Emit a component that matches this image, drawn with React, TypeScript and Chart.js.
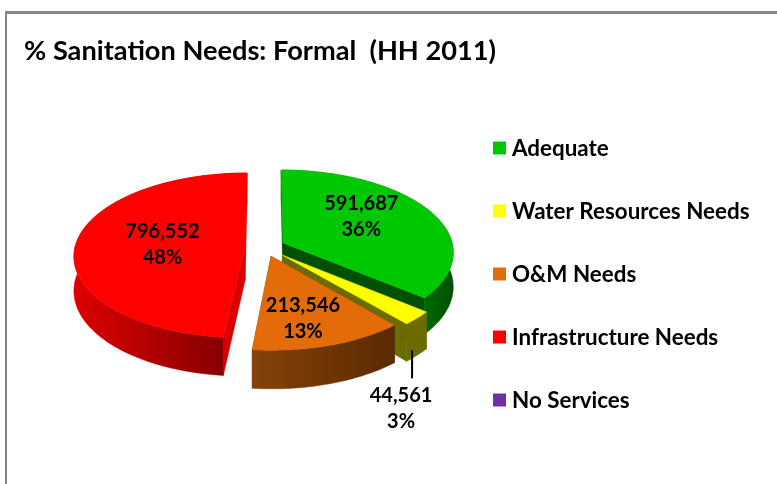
import React, { useEffect, useRef } from "react";
import { Chart, registerables } from "chart.js";

Chart.register(...registerables);

const categories = ["Adequate", "Water Resources Needs", "O&M Needs", "Infrastructure Needs", "No Services"];
const households = [591687, 44561, 213546, 796552, 0];
const topColors = ["#00C800", "#FFFF00", "#E36C09", "#FF0000", "#7030A0"];
const wallStart = ["#006A00", "#6B6B00", "#854208", "#DE0000", "#3A1A55"];
const wallEnd = ["#005000", "#6B6B00", "#5A2A02", "#850000", "#3A1A55"];
const faceColors = ["#005000", "#6B6B00", "#6B3404", "#D80000", "#3A1A55"];
const explode = [20, 24, 20, 20, 0];
const titleText = "% Sanitation Needs: Formal  (HH 2011)";

// projection of the flat pie into the tilted view
const CX = 265, CY = 247, R = 170, TILT = 0.48, DIST = 1570, DEPTH = 34;
const FONT = "Lato, Carlito, sans-serif";
const labelFrac = [0.5, 0, 0.72, 0.5, 0];
const labelShift = [[4, -10], [0, 0], [-9, 0], [2, 0], [0, 0]];

function project(u: number, v: number, h = 0) {
  const s = DIST / (DIST - v);
  return { x: CX + s * u, y: CY + s * (v * TILT + h) };
}

function slicePoint(a: number, mid: number, off: number, r: number, h = 0) {
  const u = Math.cos(mid) * off + Math.cos(a) * r;
  const v = Math.sin(mid) * off + Math.sin(a) * r;
  return project(u, v, h);
}

function poly(ctx: CanvasRenderingContext2D, pts: { x: number; y: number }[], fill: any) {
  ctx.beginPath();
  pts.forEach((p, i) => (i ? ctx.lineTo(p.x, p.y) : ctx.moveTo(p.x, p.y)));
  ctx.closePath();
  ctx.fillStyle = fill;
  ctx.fill();
  ctx.strokeStyle = fill;
  ctx.lineWidth = 0.5;
  ctx.stroke();
}

const pie3d = {
  id: "pie3d",
  beforeDraw(chart: any) {
    const { ctx } = chart;
    ctx.save();
    ctx.fillStyle = "#868686";
    ctx.fillRect(5, 11, 772, 3);
    ctx.fillRect(5, 11, 2, 473);
    ctx.restore();
  },
  beforeDatasetDraw(chart: any, args: any) {
    const { ctx } = chart;
    const arcs = args.meta.data as any[];
    const order = arcs
      .map((arc, i) => ({ arc, i, mid: (arc.startAngle + arc.endAngle) / 2 }))
      .filter((o) => o.arc.endAngle - o.arc.startAngle > 0)
      .sort((p, q) => Math.sin(p.mid) - Math.sin(q.mid));
    ctx.save();
    order.forEach(({ arc, i, mid }) => {
      const off = arc.options.offset;
      const apex = slicePoint(0, mid, off, 0);
      const apexLow = slicePoint(0, mid, off, 0, DEPTH);
      const top: { x: number; y: number }[] = [];
      const low: { x: number; y: number }[] = [];
      const n = Math.max(2, Math.ceil(((arc.endAngle - arc.startAngle) * 180) / Math.PI));
      for (let k = 0; k <= n; k++) {
        const a = arc.startAngle + ((arc.endAngle - arc.startAngle) * k) / n;
        top.push(slicePoint(a, mid, off, R));
        low.push(slicePoint(a, mid, off, R, DEPTH));
      }
      // radial faces
      poly(ctx, [apex, top[0], low[0], apexLow], faceColors[i]);
      poly(ctx, [apex, top[n], low[n], apexLow], faceColors[i]);
      // rim, shaded across its visible width
      const front = low.filter((_, k) => Math.sin(arc.startAngle + ((arc.endAngle - arc.startAngle) * k) / n) > -0.1);
      const xs = front.map((p) => p.x);
      const g = ctx.createLinearGradient(Math.min(...xs), 0, Math.max(...xs), 0);
      g.addColorStop(0, wallStart[i]);
      g.addColorStop(1, wallEnd[i]);
      poly(ctx, [...top, ...low.slice().reverse()], g);
      // top face
      poly(ctx, [apex, ...top], arc.options.backgroundColor);
    });
    ctx.restore();
    return false;
  },
  afterDatasetsDraw(chart: any) {
    const { ctx } = chart;
    const arcs = chart.getDatasetMeta(0).data as any[];
    const data = chart.data.datasets[0].data as number[];
    const total = data.reduce((a, b) => a + b, 0);
    ctx.save();
    ctx.textAlign = "center";
    ctx.textBaseline = "middle";
    ctx.font = `700 20px ${FONT}`;
    ctx.fillStyle = "#000";
    arcs.forEach((arc, i) => {
      if (!data[i]) return;
      const mid = (arc.startAngle + arc.endAngle) / 2;
      const off = arc.options.offset;
      let p;
      if (labelFrac[i] > 0) {
        const q = slicePoint(mid, mid, off, R * labelFrac[i]);
        p = { x: q.x + labelShift[i][0], y: q.y + labelShift[i][1] };
      } else {
        const q = slicePoint(mid, mid, off, R, DEPTH);
        const lx = q.x - 5;
        ctx.fillRect(lx - 1, q.y - 5, 2, 28);
        p = { x: lx - 11, y: q.y + 53 };
      }
      ctx.fillText(data[i].toLocaleString("en-US"), p.x, p.y - 13);
      ctx.fillText(`${Math.round((data[i] / total) * 100)}%`, p.x, p.y + 13);
    });
    // legend
    const items = chart.data.labels as string[];
    const colors = chart.data.datasets[0].backgroundColor as string[];
    ctx.textAlign = "left";
    ctx.font = `700 22.4px ${FONT}`;
    items.forEach((label, i) => {
      const y = 148 + i * 63;
      ctx.fillStyle = colors[i];
      ctx.fillRect(493, y - 6.5, 13, 13);
      ctx.fillStyle = "#000";
      ctx.fillText(label, 512, y + 1);
    });
    ctx.restore();
  },
};

export default function App() {
  const ref = useRef<HTMLCanvasElement>(null);
  useEffect(() => {
    document.body.style.margin = "0";
    const chart = new Chart(ref.current!, {
      type: "pie",
      data: {
        labels: categories,
        datasets: [{ data: households, backgroundColor: topColors, offset: explode, borderWidth: 0 } as any],
      },
      options: {
        responsive: false,
        animation: false,
        events: [],
        layout: { padding: { left: 24, top: 35 } },
        plugins: {
          legend: { display: false },
          tooltip: { enabled: false },
          title: {
            display: true,
            text: titleText,
            align: "start",
            color: "#000",
            font: { family: FONT, size: 27.2, weight: "bold" },
            padding: { top: 0, bottom: 10 },
          },
        },
      },
      plugins: [pie3d as any],
    });
    return () => chart.destroy();
  }, []);
  return <canvas ref={ref} width={777} height={484} style={{ display: "block" }} />;
}
